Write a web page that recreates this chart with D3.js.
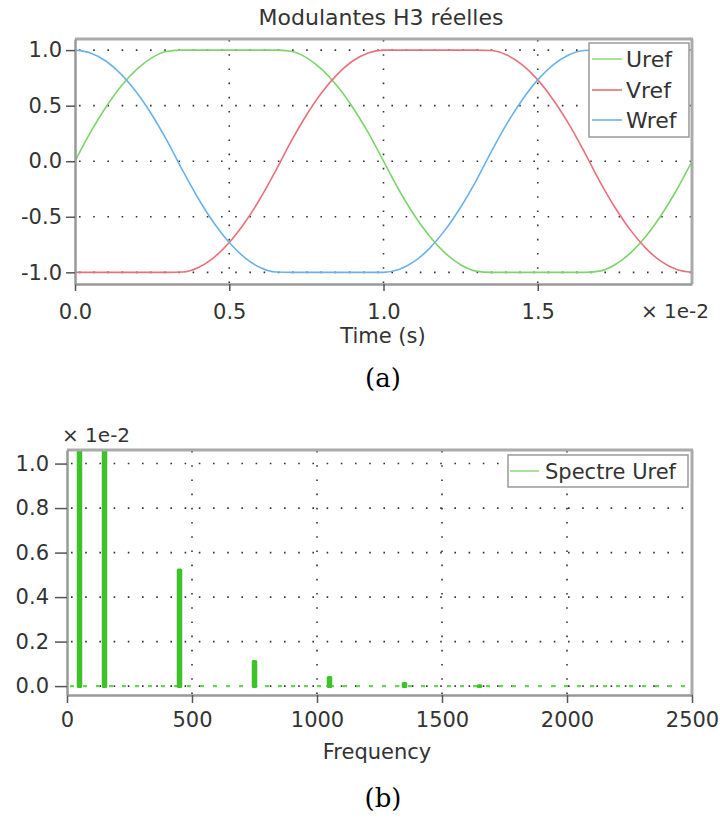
<!DOCTYPE html>
<html>
<head>
<meta charset="utf-8">
<script src="https://cdn.jsdelivr.net/npm/d3@7"></script>
<style>
  html, body { margin: 0; padding: 0; background: #fff; }
  svg { display: block; }
  text { font-family: "DejaVu Sans", sans-serif; fill: #333; }
</style>
</head>
<body>
<svg id="chart" width="720" height="818"></svg>
<script>
// ---------- DATA: top chart (time in s) ----------
const timeS = [0, 0.0005, 0.001, 0.0015, 0.002, 0.0025, 0.003, 0.0035, 0.004, 0.0045,
  0.005, 0.0055, 0.006, 0.0065, 0.007, 0.0075, 0.008, 0.0085, 0.009, 0.0095,
  0.01, 0.0105, 0.011, 0.0115, 0.012, 0.0125, 0.013, 0.0135, 0.014, 0.0145,
  0.015, 0.0155, 0.016, 0.0165, 0.017, 0.0175, 0.018, 0.0185, 0.019, 0.0195, 0.02];
const uref = [0, 0.259, 0.486, 0.677, 0.827, 0.932, 0.989, 1, 1, 1,
  1, 1, 1, 1, 0.989, 0.932, 0.827, 0.677, 0.486, 0.259,
  0, -0.259, -0.486, -0.677, -0.827, -0.932, -0.989, -1, -1, -1,
  -1, -1, -1, -1, -0.989, -0.932, -0.827, -0.677, -0.486, -0.259, 0];
const vref = [-1, -1, -1, -1, -1, -1, -1, -0.997, -0.956, -0.867,
  -0.732, -0.554, -0.338, -0.089, 0.176, 0.414, 0.618, 0.782, 0.902, 0.975,
  1, 1, 1, 1, 1, 1, 1, 0.997, 0.956, 0.867,
  0.732, 0.554, 0.338, 0.089, -0.176, -0.414, -0.618, -0.782, -0.902, -0.975, -1];
const wref = [1, 0.975, 0.902, 0.782, 0.618, 0.414, 0.176, -0.089, -0.338, -0.554,
  -0.732, -0.867, -0.956, -0.997, -1, -1, -1, -1, -1, -1,
  -1, -0.975, -0.902, -0.782, -0.618, -0.414, -0.176, 0.089, 0.338, 0.554,
  0.732, 0.867, 0.956, 0.997, 1, 1, 1, 1, 1, 1, 1];
const seriesNames = ["Uref", "Vref", "Wref"];
const timeTicks = [0, 0.005, 0.01, 0.015];
const timeTickLabels = ["0.0", "0.5", "1.0", "1.5"];
const topYTicks = [1, 0.5, 0, -0.5, -1];
const topYTickLabels = ["1.0", "0.5", "0.0", "-0.5", "-1.0"];

// ---------- DATA: bottom chart (spectrum, x 1e-2) ----------
const freqs = [50, 150, 450, 750, 1050, 1350, 1650];
const amps = [1.15, 1.12, 0.529, 0.117, 0.045, 0.018, 0.008];
const freqTicks = [0, 500, 1000, 1500, 2000, 2500];
const botYTicks = [0, 0.2, 0.4, 0.6, 0.8, 1.0];
const botYTickLabels = ["0.0", "0.2", "0.4", "0.6", "0.8", "1.0"];

const colors = { Uref: "#7dd46c", Vref: "#e8717c", Wref: "#6cb2ea" };
const legendColors = { Uref: "#a5e39a", Vref: "#ee8a92", Wref: "#8cc2ef" };
const TICK_FS = 21;

const svg = d3.select("#chart");

// ================= TOP CHART =================
const T = { left: 75, right: 692, top: 39, bottom: 284 };
const xT = d3.scaleLinear().domain([0, 0.02]).range([T.left, T.right]);
const yT = d3.scaleLinear().domain([-1.105, 1.1]).range([T.bottom, T.top]);

const gT = svg.append("g");
gT.append("defs").append("clipPath").attr("id", "clipT")
  .append("rect").attr("x", T.left).attr("y", T.top)
  .attr("width", T.right - T.left).attr("height", T.bottom - T.top);

// grid
const gridT = gT.append("g").attr("stroke", "#333").attr("stroke-width", 1.6)
  .attr("stroke-dasharray", "1.6,12.6");
gridT.selectAll(".h").data(topYTicks).join("line")
  .attr("x1", T.left + 4).attr("x2", T.right)
  .attr("y1", d => yT(d)).attr("y2", d => yT(d));
gridT.selectAll(".v").data(timeTicks.slice(1)).join("line")
  .attr("x1", d => xT(d)).attr("x2", d => xT(d))
  .attr("y1", T.top + 1).attr("y2", T.bottom);

// curves
const lineGen = d3.line().x((d, i) => xT(timeS[i])).y(d => yT(d)).curve(d3.curveMonotoneX);
const seriesData = { Uref: uref, Vref: vref, Wref: wref };
const curvesG = gT.append("g").attr("clip-path", "url(#clipT)");
seriesNames.forEach(n => {
  curvesG.append("path").datum(seriesData[n])
    .attr("fill", "none").attr("stroke", colors[n]).attr("stroke-width", 1.6)
    .attr("d", lineGen);
});

// frame
gT.append("line").attr("x1", T.left).attr("x2", T.right + 1).attr("y1", T.top).attr("y2", T.top)
  .attr("stroke", "#aaa").attr("stroke-width", 3);
gT.append("line").attr("x1", T.right).attr("x2", T.right).attr("y1", T.top).attr("y2", T.bottom)
  .attr("stroke", "#aaa").attr("stroke-width", 3);

// axes
const axTB = gT.append("g").attr("transform", `translate(0,${T.bottom})`)
  .call(d3.axisBottom(xT).tickValues(timeTicks).tickFormat((d, i) => timeTickLabels[i])
    .tickSizeInner(7).tickSizeOuter(0).tickPadding(13));
const axTL = gT.append("g").attr("transform", `translate(${T.left},0)`)
  .call(d3.axisLeft(yT).tickValues(topYTicks).tickFormat((d, i) => topYTickLabels[i])
    .tickSizeInner(9).tickSizeOuter(0).tickPadding(4));
[axTB, axTL].forEach(a => {
  a.select(".domain").attr("stroke", "#999").attr("stroke-width", 2.5);
  a.selectAll(".tick line").attr("stroke", "#555").attr("stroke-width", 1.5);
  a.selectAll(".tick text").attr("font-size", TICK_FS).attr("fill", "#333")
    .attr("font-family", "DejaVu Sans, sans-serif");
});

// title & labels
gT.append("text").attr("x", 381).attr("y", 25).attr("text-anchor", "middle")
  .attr("font-size", 22).text("Modulantes H3 réelles");
gT.append("text").attr("x", 709).attr("y", 318).attr("text-anchor", "end")
  .attr("font-size", 20).text("× 1e-2");
gT.append("text").attr("x", 383).attr("y", 343).attr("text-anchor", "middle")
  .attr("font-size", 21).text("Time (s)");
svg.append("text").attr("x", 383).attr("y", 387).attr("text-anchor", "middle")
  .attr("font-size", 26).style("font-family", "DejaVu Serif, serif").style("fill", "#000").text("(a)");

// legend
const legT = gT.append("g");
legT.append("rect").attr("x", 589).attr("y", 43).attr("width", 100).attr("height", 94)
  .attr("fill", "#fff").attr("stroke", "#999").attr("stroke-width", 1.5);
const legY = [59, 90, 120];
seriesNames.forEach((n, i) => {
  legT.append("line").attr("x1", 592).attr("x2", 622).attr("y1", legY[i]).attr("y2", legY[i])
    .attr("stroke", legendColors[n]).attr("stroke-width", 2);
  legT.append("text").attr("x", 626).attr("y", legY[i] + 8).attr("font-size", 22).text(n);
});

// ================= BOTTOM CHART =================
const B = { left: 67, right: 692, top: 450, bottom: 695 };
const xB = d3.scaleLinear().domain([0, 2500]).range([B.left, B.right]);
const yB = d3.scaleLinear().domain([-0.04, 1.061]).range([B.bottom, B.top]);
const gB = svg.append("g");
gB.append("defs").append("clipPath").attr("id", "clipB")
  .append("rect").attr("x", B.left).attr("y", B.top)
  .attr("width", B.right - B.left).attr("height", B.bottom - B.top);

const gridB = gB.append("g").attr("stroke", "#333").attr("stroke-width", 1.6)
  .attr("stroke-dasharray", "1.6,12.6");
gridB.selectAll(".h").data(botYTicks).join("line")
  .attr("x1", B.left + 4).attr("x2", B.right)
  .attr("y1", d => yB(d)).attr("y2", d => yB(d));
gridB.selectAll(".v").data(freqTicks.slice(1, -1)).join("line")
  .attr("x1", d => xB(d)).attr("x2", d => xB(d))
  .attr("y1", B.top + 1).attr("y2", B.bottom);

// zero-level dashed spectrum line
gB.append("line").attr("x1", B.left + 3).attr("x2", B.right - 2)
  .attr("y1", yB(0)).attr("y2", yB(0))
  .attr("stroke", "#6fcf5e").attr("stroke-width", 2.2).attr("stroke-dasharray", "4,9");

// bars
const barW = 5.5;
gB.append("g").attr("clip-path", "url(#clipB)")
  .selectAll("rect").data(freqs).join("rect")
  .attr("x", d => xB(d) - barW / 2).attr("width", barW)
  .attr("y", (d, i) => yB(amps[i])).attr("height", (d, i) => yB(0) - yB(amps[i]) + 2)
  .attr("rx", 1.5)
  .attr("fill", "#3ec22a");

gB.append("line").attr("x1", B.left).attr("x2", B.right + 1).attr("y1", B.top).attr("y2", B.top)
  .attr("stroke", "#aaa").attr("stroke-width", 3);
gB.append("line").attr("x1", B.right).attr("x2", B.right).attr("y1", B.top).attr("y2", B.bottom)
  .attr("stroke", "#aaa").attr("stroke-width", 3);

const axBB = gB.append("g").attr("transform", `translate(0,${B.bottom})`)
  .call(d3.axisBottom(xB).tickValues(freqTicks).tickFormat(d3.format("d"))
    .tickSizeInner(8).tickSizeOuter(0).tickPadding(9));
const axBL = gB.append("g").attr("transform", `translate(${B.left},0)`)
  .call(d3.axisLeft(yB).tickValues(botYTicks).tickFormat((d, i) => botYTickLabels[i])
    .tickSizeInner(12).tickSizeOuter(0).tickPadding(6));
[axBB, axBL].forEach(a => {
  a.select(".domain").attr("stroke", "#999").attr("stroke-width", 2.5);
  a.selectAll(".tick line").attr("stroke", "#555").attr("stroke-width", 1.5);
  a.selectAll(".tick text").attr("font-size", TICK_FS).attr("fill", "#333")
    .attr("font-family", "DejaVu Sans, sans-serif");
});

gB.append("text").attr("x", 62).attr("y", 442).attr("font-size", 20).text("× 1e-2");
gB.append("text").attr("x", 377).attr("y", 759).attr("text-anchor", "middle")
  .attr("font-size", 21).text("Frequency");
svg.append("text").attr("x", 383).attr("y", 807).attr("text-anchor", "middle")
  .attr("font-size", 26).style("font-family", "DejaVu Serif, serif").style("fill", "#000").text("(b)");

// legend bottom
const legB = gB.append("g");
legB.append("rect").attr("x", 508).attr("y", 455).attr("width", 180).attr("height", 32)
  .attr("fill", "#fff").attr("stroke", "#999").attr("stroke-width", 1.5);
legB.append("line").attr("x1", 510).attr("x2", 539).attr("y1", 471).attr("y2", 471)
  .attr("stroke", "#a5e39a").attr("stroke-width", 2);
legB.append("text").attr("x", 545).attr("y", 479).attr("font-size", 21).text("Spectre Uref");
</script>
</body>
</html>
